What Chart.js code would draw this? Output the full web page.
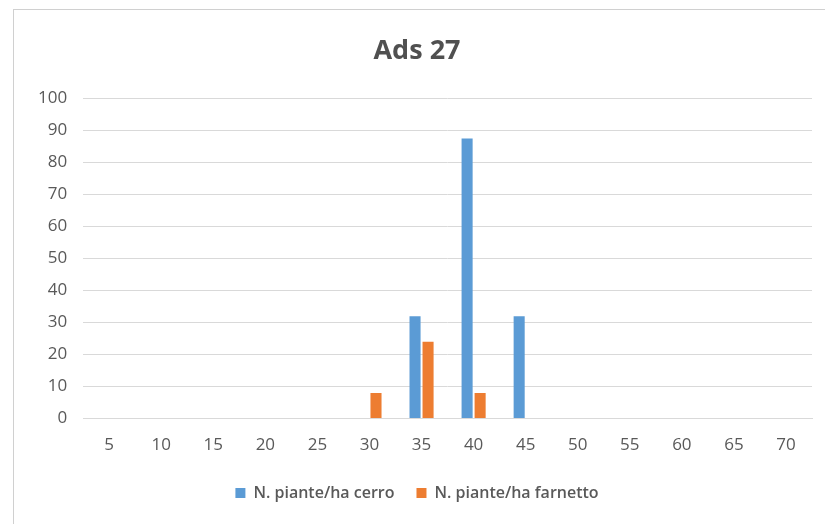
<!DOCTYPE html>
<html><head><meta charset="utf-8">
<script src="https://cdn.jsdelivr.net/npm/chart.js@4/dist/chart.umd.min.js"></script>
<style>
html,body{margin:0;padding:0;background:#fff;}
#frame{position:absolute;left:13px;top:9px;width:830px;height:530px;border:1px solid #d0d0d0;box-sizing:border-box;}
#wrap{position:absolute;left:0;top:0;width:825px;height:524px;}
</style></head>
<body>
<div id="frame"></div>
<div id="wrap"><canvas id="c" width="825" height="524"></canvas></div>
<script>
const categories = ['5','10','15','20','25','30','35','40','45','50','55','60','65','70'];
const cerro =    [0,0,0,0,0,0,32,87.5,32,0,0,0,0,0];
const farnetto = [0,0,0,0,0,8,24,8,0,0,0,0,0,0];
const seriesNames = ['N. piante/ha cerro','N. piante/ha farnetto'];
const titleText = 'Ads 27';

const font = '"Open Sans", "Liberation Sans", sans-serif';
new Chart(document.getElementById('c'), {
  type: 'bar',
  data: {
    labels: categories,
    datasets: [
      {label: seriesNames[0], data: cerro, backgroundColor: '#5b9bd5', categoryPercentage: 0.5, barPercentage: 0.85},
      {label: seriesNames[1], data: farnetto, backgroundColor: '#ed7d31', categoryPercentage: 0.5, barPercentage: 0.85}
    ]
  },
  options: {
    responsive: false,
    animation: false,
    layout: {padding: {left: 22, right: 13, top: 22, bottom: 13}},
    plugins: {
      title: {display: true, text: titleText, color: '#505050', font: {family: font, size: 27, weight: 'bold'}, padding: {top: 13, bottom: 31}},
      legend: {position: 'bottom', labels: {color: '#595959', font: {family: font, size: 16, weight: '600'}, boxWidth: 10, boxHeight: 10, padding: 22}},
      tooltip: {enabled: false}
    },
    scales: {
      x: {
        grid: {display: false},
        border: {display: true, color: '#d9d9d9'},
        ticks: {color: '#595959', font: {family: font, size: 17}, padding: 8}
      },
      y: {
        min: 0, max: 100,
        ticks: {stepSize: 10, color: '#595959', font: {family: font, size: 17}, padding: 16},
        grid: {color: '#d9d9d9', drawTicks: false},
        border: {display: false}
      }
    }
  }
});
</script>
</body></html>
